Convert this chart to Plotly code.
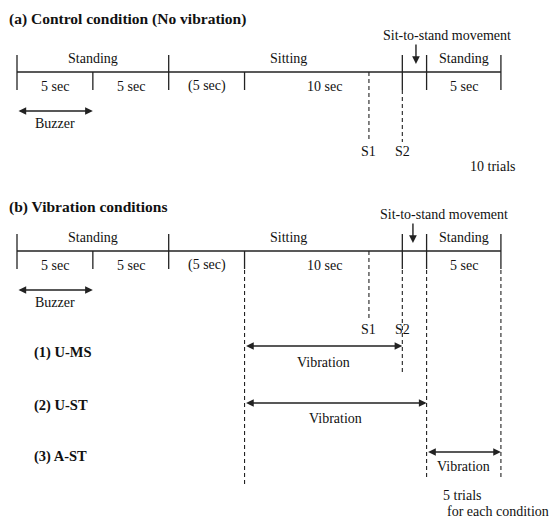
import plotly.graph_objects as go

# ---- data (time in seconds along the trial) ----
boundaries = [0, 5, 10, 15, 25.4, 27, 31.9]          # segment boundaries
tall_ticks = [0, 10, 25.4, 27, 31.9]
short_ticks = [5, 15]
s1_time = 23.2
s2_time = 25.4
phase_labels = ["Standing", "Sitting", "Standing"]
phase_centers = [5, 17.9, 29.45]
sub_labels = ["5 sec", "5 sec", "(5 sec)", "10 sec", "5 sec"]
sub_centers = [2.5, 7.5, 12.5, 20.3, 29.45]
buzzer_span = [0, 5]
conditions = ["(1) U-MS", "(2) U-ST", "(3) A-ST"]
vibration_spans = [[15, 25.4], [15, 27], [27, 31.9]]

PX = 15.17   # pixels per second
X0 = 17      # pixel of t = 0
W, H = 550, 518

FONT = "Liberation Serif"
LC = "#222222"
FS = 14

fig = go.Figure()
shapes = []
ann = []


def line(x0, y0, x1, y1, dash=None, width=1.3):
    d = dict(type="line", xref="x", yref="y", x0=x0, y0=y0, x1=x1, y1=y1,
             line=dict(color=LC, width=width))
    if dash:
        d["line"]["dash"] = dash
        d["line"]["width"] = 1.1
    shapes.append(d)


def text(x, y, s, size=FS, bold=False, xanchor="center", xref="x"):
    ann.append(dict(x=x, y=y, xref=xref, yref="y", text=("<b>%s</b>" % s) if bold else s,
                    showarrow=False, xanchor=xanchor, yanchor="middle",
                    font=dict(family=FONT, size=size, color="#111111")))


def arrow(x0, y0, x1, y1, both=True):
    ann.append(dict(x=x1, y=y1, ax=x0, ay=y0, xref="x", yref="y", axref="x", ayref="y",
                    text="", showarrow=True, arrowhead=2, startarrowhead=2,
                    arrowside="end+start" if both else "end",
                    arrowsize=1.1, startarrowsize=1.1, arrowwidth=1.4, arrowcolor=LC,
                    standoff=0, startstandoff=0))


DASH = "4px,3px"


def timeline(base, dashed_specs, sts_text_t, sts_arrow_t):
    top, bot = base - 17, base + 18
    line(boundaries[0], base, boundaries[-1], base)
    for t in tall_ticks:
        line(t, top, t, bot)
    for t in short_ticks:
        line(t, base, t, bot)
    for c, lab in zip(phase_centers, phase_labels):
        text(c, base - 14, lab)
    for c, lab in zip(sub_centers, sub_labels):
        text(c, base + 14, lab)
    text(sts_text_t, base - 37, "Sit-to-stand movement")
    arrow(sts_arrow_t, base - 29, sts_arrow_t, base - 8, both=False)
    arrow(buzzer_span[0], base + 39, buzzer_span[1], base + 39)
    text(2.5, base + 51, "Buzzer")
    for t, y0, y1 in dashed_specs:
        line(t, y0, t, y1, dash=DASH)


# ---- panel (a) ----
text(7 / W, 19, "(a) Control condition (No vibration)", size=15.5, bold=True, xanchor="left", xref="paper")
timeline(72, [(s1_time, 72, 142), (s2_time, 90, 142)], 28.35, 26.3)
text(s1_time, 151, "S1")
text(s2_time, 151, "S2")
text(31.4, 166, "10 trials")

# ---- panel (b) ----
text(7 / W, 207, "(b) Vibration conditions", size=15.5, bold=True, xanchor="left", xref="paper")
timeline(251, [(15, 270, 486), (s1_time, 251, 320), (s2_time, 270, 373),
               (27, 270, 480), (31.9, 270, 480)], 28.15, 26.1)
text(s1_time, 329, "S1")
text(s2_time, 329, "S2")

cond_y = [352, 405, 456]
arrow_y = [346, 403, 452]
vib_y = [362, 418, 466]
for name, span, cy, ay, vy in zip(conditions, vibration_spans, cond_y, arrow_y, vib_y):
    text(32 / W, cy, name, size=14.5, bold=True, xanchor="left", xref="paper")
    arrow(span[0], ay, span[1], ay)
    text((span[0] + span[1]) / 2, vy, "Vibration")

text(441 / W, 495, "5 trials", xanchor="left", xref="paper")
text(445 / W, 511, "for each condition", xanchor="left", xref="paper")

fig.update_layout(
    width=W, height=H, margin=dict(l=0, r=0, t=0, b=0),
    paper_bgcolor="white", plot_bgcolor="white",
    xaxis=dict(range=[-X0 / PX, (W - X0) / PX], visible=False, fixedrange=True),
    yaxis=dict(range=[H, 0], visible=False, fixedrange=True),
    shapes=shapes, annotations=ann, showlegend=False,
)
fig.write_html("out.html", config={"displayModeBar": False},
               post_script="document.body.style.margin='0';document.body.style.overflow='hidden';")
